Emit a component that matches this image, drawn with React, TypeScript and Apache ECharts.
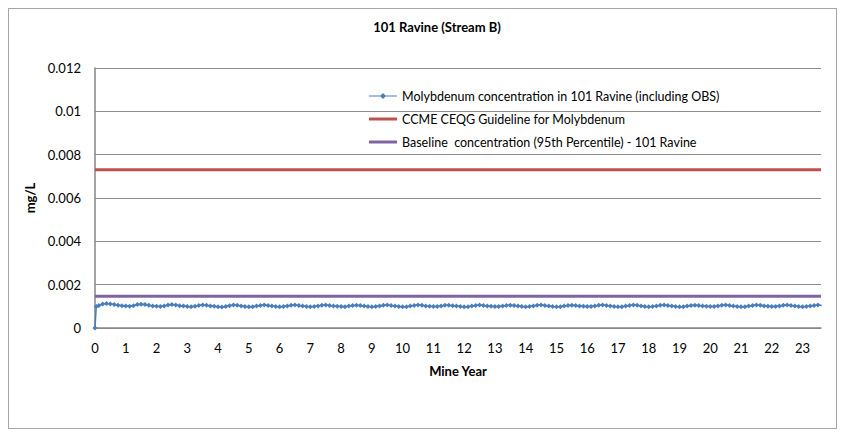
import React, { useEffect, useRef } from "react";
import * as echarts from "echarts";

const titleText = "101 Ravine (Stream B)";
const xAxisName = "Mine Year";
const yAxisName = "mg/L";
const seriesNames = [
  "Molybdenum concentration in 101 Ravine (including OBS)",
  "CCME CEQG Guideline for Molybdenum",
  "Baseline  concentration (95th Percentile) - 101 Ravine",
];

// Start-up samples (year, mg/L)
const startYears = [0, 0.04];
const startValues = [0, 0.00099];

// Regular samples every 0.125 year starting at 0.125
const sampleStartYear = 0.125;
const sampleStepYears = 0.125;
const molybdenum = [
  // year 0 (0.125 - 0.875)
  0.00104, 0.00111, 0.00113, 0.00111, 0.00108, 0.00105, 0.00103,
  // year 1
  0.00101, 0.001, 0.00103, 0.00108, 0.0011, 0.00108, 0.00105, 0.00102,
  // year 2
  0.001, 0.00099, 0.00102, 0.00106, 0.00108, 0.00106, 0.00103, 0.00101,
  // year 3
  0.00099, 0.00098, 0.001, 0.00104, 0.00106, 0.00105, 0.00102, 0.001,
  // year 4
  0.00098, 0.00097, 0.00099, 0.00103, 0.00106, 0.00105, 0.00102, 0.00099,
  // year 5
  0.00098, 0.00098, 0.00101, 0.00104, 0.00106, 0.00104, 0.00101, 0.00099,
  // year 6
  0.00098, 0.00099, 0.00102, 0.00105, 0.00106, 0.00104, 0.00101, 0.00099,
  // year 7
  0.00098, 0.00099, 0.00102, 0.00105, 0.00106, 0.00104, 0.00102, 0.001,
  // year 8
  0.00099, 0.00098, 0.00101, 0.00104, 0.00105, 0.00104, 0.00101, 0.00099,
  // year 9
  0.00098, 0.00099, 0.00102, 0.00105, 0.00106, 0.00104, 0.00101, 0.00099,
  // year 10
  0.00098, 0.00098, 0.00101, 0.00104, 0.00106, 0.00105, 0.00102, 0.001,
  // year 11
  0.00099, 0.00099, 0.00102, 0.00105, 0.00105, 0.00103, 0.00101, 0.00099,
  // year 12
  0.00098, 0.00098, 0.00101, 0.00104, 0.00106, 0.00104, 0.00102, 0.001,
  // year 13
  0.00099, 0.00099, 0.00101, 0.00104, 0.00105, 0.00104, 0.00101, 0.00099,
  // year 14
  0.00098, 0.00099, 0.00102, 0.00105, 0.00106, 0.00104, 0.00101, 0.00099,
  // year 15
  0.00098, 0.00098, 0.00101, 0.00104, 0.00105, 0.00104, 0.00102, 0.001,
  // year 16
  0.00099, 0.00099, 0.00102, 0.00105, 0.00106, 0.00104, 0.00101, 0.00099,
  // year 17
  0.00098, 0.00098, 0.00101, 0.00104, 0.00106, 0.00105, 0.00102, 0.00099,
  // year 18
  0.00098, 0.00099, 0.00102, 0.00105, 0.00106, 0.00104, 0.00101, 0.00099,
  // year 19
  0.00098, 0.00098, 0.00101, 0.00104, 0.00105, 0.00104, 0.00102, 0.001,
  // year 20
  0.00099, 0.00099, 0.00102, 0.00105, 0.00106, 0.00104, 0.00101, 0.00099,
  // year 21
  0.00098, 0.00098, 0.00101, 0.00104, 0.00106, 0.00105, 0.00102, 0.001,
  // year 22
  0.00099, 0.00099, 0.00102, 0.00105, 0.00106, 0.00104, 0.00101, 0.00099,
  // year 23 (23.0 - 23.625)
  0.00098, 0.00099, 0.00102, 0.00104, 0.00106, 0.00104,
];

const guidelineValue = 0.0073;
const baselineValue = 0.00146;

const xMin = 0;
const xMax = 23.6;
const yMin = 0;
const yMax = 0.012;
const yInterval = 0.002;

const FONT = "Lato, 'Open Sans', sans-serif";

const ICON_MARKER_LINE =
  "path://M0,2.6 L11.5,2.6 L14,0 L16.5,2.6 L28,2.6 L28,3.4 L16.5,3.4 L14,6 L11.5,3.4 L0,3.4 Z";
const ICON_THICK_LINE = "path://M0,0 L28,0 L28,3 L0,3 Z";

export default function App() {
  const ref = useRef<HTMLDivElement>(null);

  useEffect(() => {
    if (!ref.current) return;
    const chart = echarts.init(ref.current, undefined, { renderer: "svg" });

    const moData: [number, number][] = [];
    startYears.forEach((x, i) => moData.push([x, startValues[i]]));
    molybdenum.forEach((v, i) =>
      moData.push([sampleStartYear + i * sampleStepYears, v])
    );

    chart.setOption({
      animation: false,
      textStyle: { fontFamily: FONT },
      title: {
        text: titleText,
        left: 423,
        top: 6,
        textAlign: "center",
        textStyle: { fontFamily: FONT, fontSize: 13, fontWeight: "bold", color: "#000" },
      },
      legend: {
        orient: "vertical",
        left: 355,
        top: 75,
        itemWidth: 28,
        itemHeight: 14,
        itemGap: 9,
        symbolKeepAspect: true,
        textStyle: { fontFamily: FONT, fontSize: 12.5, color: "#000", lineHeight: 14 },
        data: [
          { name: seriesNames[0], icon: ICON_MARKER_LINE },
          { name: seriesNames[1], icon: ICON_THICK_LINE },
          { name: seriesNames[2], icon: ICON_THICK_LINE },
        ],
      },
      grid: { left: 86, top: 59, width: 726, height: 260, containLabel: false },
      xAxis: {
        type: "value",
        min: xMin,
        max: xMax,
        interval: 1,
        name: xAxisName,
        nameLocation: "middle",
        nameGap: 36,
        nameTextStyle: { fontFamily: FONT, fontSize: 13, fontWeight: "bold", color: "#000" },
        axisLine: { show: true, lineStyle: { color: "#868686", width: 1.5 } },
        axisTick: { show: false },
        splitLine: { show: false },
        axisLabel: {
          fontFamily: FONT,
          fontSize: 13,
          color: "#000",
          margin: 13,
          showMaxLabel: false,
          formatter: (v: number) => (Math.abs(v - Math.round(v)) < 1e-6 ? String(Math.round(v)) : ""),
        },
      },
      yAxis: {
        type: "value",
        min: yMin,
        max: yMax,
        interval: yInterval,
        name: yAxisName,
        nameLocation: "middle",
        nameGap: 52,
        nameTextStyle: { fontFamily: FONT, fontSize: 13, fontWeight: "bold", color: "#000" },
        axisLine: { show: true, lineStyle: { color: "#868686", width: 1.5 } },
        axisTick: { show: false },
        splitLine: { show: true, lineStyle: { color: "#8c8c8c", width: 1 } },
        axisLabel: {
          fontFamily: FONT,
          fontSize: 13,
          color: "#000",
          margin: 14,
          formatter: (v: number) => String(parseFloat(v.toFixed(4))),
        },
      },
      series: [
        {
          name: seriesNames[0],
          type: "line",
          data: moData,
          symbol: "diamond",
          symbolSize: 5,
          showAllSymbol: true,
          lineStyle: { color: "#4a7ebb", width: 1.5 },
          itemStyle: { color: "#4a7ebb" },
          z: 3,
        },
        {
          name: seriesNames[1],
          type: "line",
          data: [
            [xMin, guidelineValue],
            [xMax, guidelineValue],
          ],
          showSymbol: false,
          symbol: "none",
          lineStyle: { color: "#c0504d", width: 3 },
          itemStyle: { color: "#c0504d" },
          z: 2,
        },
        {
          name: seriesNames[2],
          type: "line",
          data: [
            [xMin, baselineValue],
            [xMax, baselineValue],
          ],
          showSymbol: false,
          symbol: "none",
          lineStyle: { color: "#8064a2", width: 3 },
          itemStyle: { color: "#8064a2" },
          z: 2,
        },
      ],
    });

    return () => chart.dispose();
  }, []);

  return (
    <div
      style={{
        width: 829,
        height: 421,
        border: "1px solid #a6a6a6",
        boxSizing: "border-box",
        background: "#fff",
      }}
    >
      <div ref={ref} style={{ width: 827, height: 419 }} />
    </div>
  );
}
